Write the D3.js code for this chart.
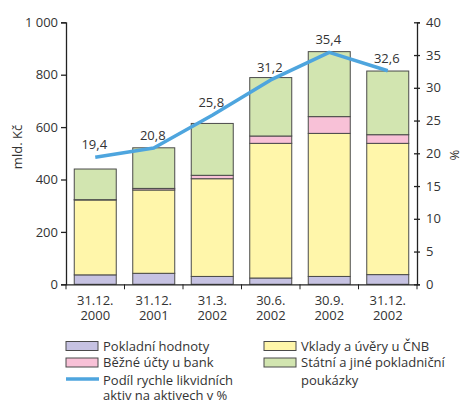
<!DOCTYPE html>
<html><head><meta charset="utf-8">
<script src="https://cdn.jsdelivr.net/npm/d3@7"></script>
<style>body{margin:0;background:#fff}svg{display:block}text{font-family:"Open Sans",sans-serif;fill:#333}</style>
</head><body><svg id="c" width="462" height="401"></svg>
<script>
const categories = [["31.12.","2000"],["31.12.","2001"],["31.3.","2002"],["30.6.","2002"],["30.9.","2002"],["31.12.","2002"]];
const pokladniHodnoty = [36, 42, 30, 24, 30, 37];
const vkladyCNB = [286, 318, 373, 514, 546, 501];
const bezneUcty = [1, 6, 13, 28, 64, 33];
const statniPoukazky = [117, 155, 198, 223, 248, 243];
const podil = [19.4, 20.8, 25.8, 31.2, 35.4, 32.6];
const podilLabels = ["19,4","20,8","25,8","31,2","35,4","32,6"];
const leftTicks = [0,200,400,600,800,1000];
const rightTicks = [0,5,10,15,20,25,30,35,40];
const seriesNames = ["Pokladní hodnoty","Vklady a úvěry u ČNB","Běžné účty u bank","Státní a jiné pokladniční poukázky"];
const colors = ["#c6c2e2","#fff6aa","#f8c1d7","#d2e5b0"];
const lineColor = "#4ea5de";

const svg = d3.select("#c");
const L = 66, R = 417, T = 22.3, B = 284.3;
const x = d3.scaleBand().domain(d3.range(6)).range([L,R]).paddingInner(0.265).paddingOuter(0.1325);
const y = d3.scaleLinear().domain([0,1000]).range([B,T]);
const y2 = d3.scaleLinear().domain([0,40]).range([B,T]);

const rows = d3.range(6).map(i=>({i, a:pokladniHodnoty[i], b:vkladyCNB[i], c:bezneUcty[i], d:statniPoukazky[i]}));
const stack = d3.stack().keys(["a","b","c","d"])(rows);
stack.forEach((s,k)=>{
  svg.append("g").selectAll("rect").data(s).join("rect")
    .attr("x",d=>x(d.data.i)+0.5).attr("width",x.bandwidth()-1)
    .attr("y",d=>y(d[1])).attr("height",d=>y(d[0])-y(d[1]))
    .attr("fill",colors[k]).attr("stroke","#4a4a4a").attr("stroke-width",1);
});

// left axis
const gl = svg.append("g").attr("transform",`translate(${L},0)`)
  .call(d3.axisLeft(y).tickValues(leftTicks).tickSize(5).tickPadding(3).tickFormat(d=>d===1000?"1 000":d));
// right axis
const gr = svg.append("g").attr("transform",`translate(${R},0)`)
  .call(d3.axisRight(y2).tickValues(rightTicks).tickSize(3).tickPadding(6));
gr.selectAll(".tick line").attr("x1",-3);
// bottom axis
const gb = svg.append("g").attr("transform",`translate(0,${B})`)
  .call(d3.axisBottom(x).tickSize(0).tickFormat(""));
gb.selectAll(".tick").remove();
const bounds = d3.range(7).map(i=> L + i*x.step());
gb.selectAll("line.b").data(bounds).join("line").attr("class","b")
  .attr("x1",d=>d).attr("x2",d=>d).attr("y1",0).attr("y2",5).attr("stroke","#222");
[gl,gr,gb].forEach(g=>{
  g.selectAll(".domain").attr("stroke","#222").attr("stroke-width",1.3);
  g.selectAll("line").attr("stroke","#222");
  g.selectAll("text").attr("font-size",13).attr("fill","#333").attr("font-family","'Open Sans',sans-serif");
});
gl.selectAll(".tick line").attr("stroke-width",1.3);
gr.selectAll(".tick line").attr("stroke-width",1.3);

const cat = svg.append("g").selectAll("g").data(categories).join("g");
cat.append("text").attr("x",(d,i)=>x(i)+x.bandwidth()/2).attr("y",305).attr("text-anchor","middle").attr("font-size",13).text(d=>d[0]);
cat.append("text").attr("x",(d,i)=>x(i)+x.bandwidth()/2).attr("y",320).attr("text-anchor","middle").attr("font-size",13).text(d=>d[1]);

// line
const line = d3.line().x((d,i)=>x(i)+x.bandwidth()/2).y(d=>y2(d));
svg.append("path").datum(podil).attr("d",line).attr("fill","none")
  .attr("stroke",lineColor).attr("stroke-width",3.5).attr("stroke-linejoin","round");
svg.append("g").selectAll("text").data(podil).join("text")
  .attr("x",(d,i)=>x(i)+x.bandwidth()/2-1).attr("y",d=>y2(d)-8)
  .attr("text-anchor","middle").attr("font-size",13).text((d,i)=>podilLabels[i]);

// axis titles
svg.append("text").attr("transform","translate(22,147) rotate(-90)").attr("text-anchor","middle").attr("font-size",13).text("mld. Kč");
svg.append("text").attr("transform","translate(450,155) rotate(90)").attr("text-anchor","middle").attr("font-size",13).text("%");

// legend
const lg = svg.append("g");
function sw(xx,yy,c){ lg.append("rect").attr("x",xx).attr("y",yy).attr("width",32).attr("height",9).attr("fill",c).attr("stroke","#4a4a4a"); }
function tx(xx,yy,t){ lg.append("text").attr("x",xx).attr("y",yy).attr("font-size",13).text(t); }
sw(66,341.5,colors[0]); tx(103,350.5,seriesNames[0]);
sw(66,358,colors[2]); tx(103,367,seriesNames[2]);
lg.append("line").attr("x1",66).attr("x2",99).attr("y1",379).attr("y2",379).attr("stroke",lineColor).attr("stroke-width",3.5);
tx(103,384.5,"Podíl rychle likvidních"); tx(103,400,"aktiv na aktivech v %");
sw(264,341.5,colors[1]); tx(301,350.5,seriesNames[1]);
sw(264,358,colors[3]); tx(301,367,"Státní a jiné pokladniční"); tx(301,384.5,"poukázky");
</script></body></html>
